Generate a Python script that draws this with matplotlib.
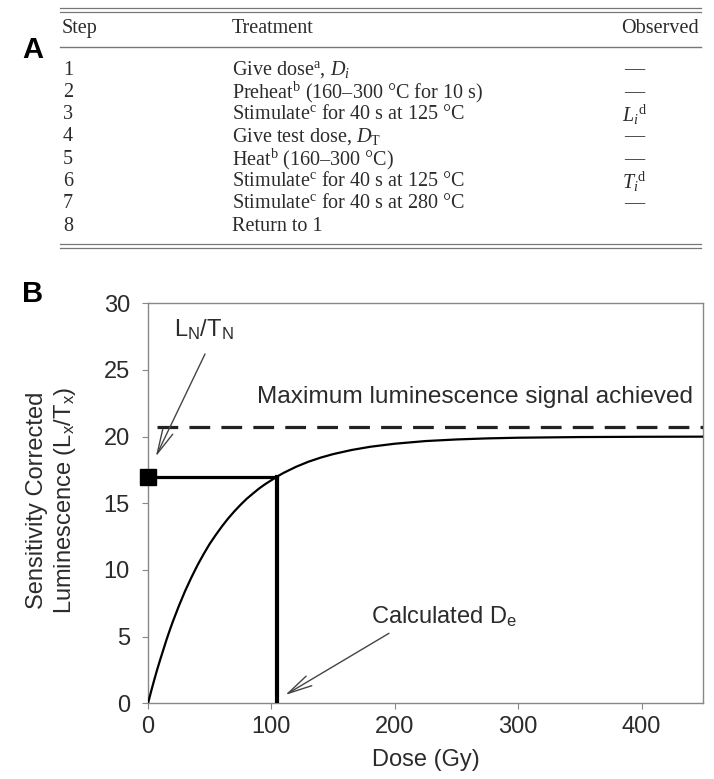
"""
Protocolo SAR (tabela A) e curva de crescimento de dose (painel B)
"""

import matplotlib
matplotlib.use("Agg")
import matplotlib.pyplot as plt

# Dados da tabela (painel A)
steps = ["1", "2", "3", "4", "5", "6", "7", "8"]
treatments = [
    r"Give dose$^\mathregular{a}$, $\mathit{D}_\mathit{i}$",
    r"Preheat$^\mathregular{b}$ (160–300 °C for 10 s)",
    r"Stimulate$^\mathregular{c}$ for 40 s at 125 °C",
    r"Give test dose, $\mathit{D}_\mathregular{T}$",
    r"Heat$^\mathregular{b}$ (160–300 °C)",
    r"Stimulate$^\mathregular{c}$ for 40 s at 125 °C",
    r"Stimulate$^\mathregular{c}$ for 40 s at 280 °C",
    "Return to 1",
]
observed = ["—", "—", r"$\mathit{L}_\mathit{i}$$^\mathregular{d}$", "—", "—",
            r"$\mathit{T}_\mathit{i}$$^\mathregular{d}$", "—", ""]

# Dados do painel B
dose_curve = [0, 2.5, 5, 7.5, 10, 12.5, 15, 17.5, 20, 25, 30, 35, 40, 45, 50,
              55, 60, 65, 70, 75, 80, 85, 90, 95, 104.5, 110, 120, 130, 140,
              150, 165, 180, 200, 225, 250, 275, 300, 350, 400, 450]
lum_curve = [0, 0.89, 1.74, 2.55, 3.31, 4.04, 4.77, 5.45, 6.10, 7.30, 8.41,
             9.41, 10.34, 11.18, 11.96, 12.64, 13.28, 13.87, 14.40, 14.89,
             15.34, 15.73, 16.11, 16.44, 17.0, 17.29, 17.74, 18.12, 18.43,
             18.69, 19.0, 19.24, 19.47, 19.67, 19.79, 19.87, 19.92, 19.97,
             19.99, 20.0]
ln_tn = 17.0          # L_N/T_N
de_dose = 104.5       # D_e calculado
max_signal = 20.7     # sinal máximo
dash_start = 7
x_ticks = [0, 100, 200, 300, 400]
y_ticks = [0, 5, 10, 15, 20, 25, 30]

TXT = "#2b2b2b"

plt.rcParams["mathtext.fontset"] = "custom"
plt.rcParams["mathtext.rm"] = "Liberation Serif"
plt.rcParams["mathtext.it"] = "Liberation Serif:italic"

fig = plt.figure(figsize=(7.14, 7.79), dpi=100)

# camada em pixels para a tabela e os rótulos
bg = fig.add_axes([0, 0, 1, 1])
bg.set_xlim(0, 714)
bg.set_ylim(779, 0)
bg.axis("off")

serif = dict(family="Liberation Serif", fontsize=14.5, color=TXT, va="center")

for yy in (8, 11.5):
    bg.plot([60, 701], [yy, yy], color="#777777", lw=0.9)
bg.plot([60, 701], [47, 47], color="#777777", lw=1.0)
for yy in (244, 247.5):
    bg.plot([60, 701], [yy, yy], color="#777777", lw=0.9)

bg.text(62, 28, "Step", ha="left", **serif)
bg.text(232, 28, "Treatment", ha="left", **serif)
bg.text(699, 28, "Observed", ha="right", **serif)
for i in range(len(steps)):
    yy = 70 + i * 22.3
    bg.text(63, yy, steps[i], ha="left", **serif)
    bg.text(232, yy, treatments[i], ha="left", **serif)
    bg.text(634, yy, observed[i], ha="center", **serif)

bg.text(33, 50, "A", ha="center", va="center", fontsize=21, fontweight="bold",
        family="Liberation Sans", color="black")
bg.text(33, 294, "B", ha="center", va="center", fontsize=21, fontweight="bold",
        family="Liberation Sans", color="black")

bg.text(52, 500, "Sensitivity Corrected\nLuminescence (L$_\\mathregular{x}$/T$_\\mathregular{x}$)",
        rotation=90, ha="center", va="center", multialignment="center",
        fontsize=17, family="Liberation Sans", color=TXT, linespacing=1.22)

# Painel B
ax = fig.add_axes([0.2073, 0.0972, 0.7777, 0.5134])
sans = dict(family="Liberation Sans", fontsize=17, color=TXT)

ax.plot(dose_curve, lum_curve, color="black", lw=1.6, zorder=3)
ax.plot([0, de_dose], [ln_tn, ln_tn], color="black", lw=2.3, zorder=3)
ax.plot([de_dose, de_dose], [0, ln_tn], color="black", lw=3.0, zorder=3)
ax.plot([dash_start, 450], [max_signal, max_signal], color="#222222", lw=2.3,
        linestyle=(0, (6.5, 3.5)), zorder=3)
ax.plot([0], [ln_tn], marker="s", ms=12, color="black", clip_on=False, zorder=5)

arrow = dict(arrowstyle="->,head_length=1.1,head_width=0.25", mutation_scale=16,
             color="#444444", lw=1.0, shrinkA=0, shrinkB=0)
ax.text(45, 28, r"L$_\mathregular{N}$/T$_\mathregular{N}$", ha="center", va="center", **sans)
ax.annotate("", xy=(6.3, 18.5), xytext=(46.2, 26.2), arrowprops=arrow)
ax.text(88, 23.0, "Maximum luminescence signal achieved", ha="left", va="center",
        family="Liberation Sans", fontsize=17.6, color=TXT)
ax.text(180.4, 6.5, r"Calculated D$_\mathregular{e}$", ha="left", va="center", **sans)
ax.annotate("", xy=(111.2, 0.62), xytext=(195.3, 5.25), arrowprops=arrow)

ax.set_xlim(0, 450)
ax.set_ylim(0, 30)
ax.set_xticks(x_ticks)
ax.set_yticks(y_ticks)
ax.set_xlabel("Dose (Gy)", labelpad=8, **sans)
for sp in ax.spines.values():
    sp.set_color("#888888")
    sp.set_linewidth(1.0)
ax.tick_params(axis="x", length=4, pad=5, color="#888888", labelcolor=TXT, labelsize=17)
ax.tick_params(axis="y", length=4, pad=9, color="#888888", labelcolor=TXT, labelsize=17)
for lab in ax.get_xticklabels() + ax.get_yticklabels():
    lab.set_family("Liberation Sans")

fig.savefig("out.png", dpi=100)
